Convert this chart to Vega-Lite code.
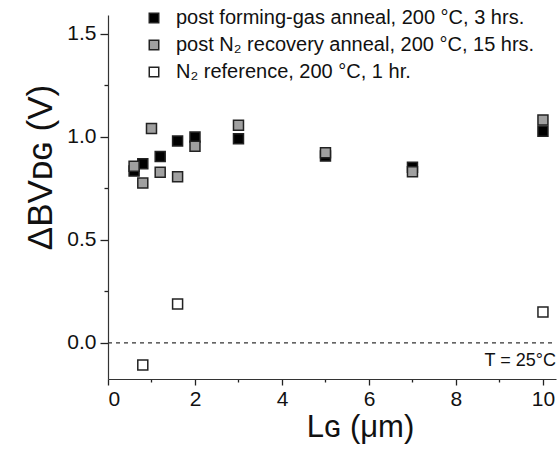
{
  "$schema": "https://vega.github.io/schema/vega-lite/v6.json",
  "autosize": {"type": "none"},
  "padding": {"left": 108, "top": 15, "right": 1, "bottom": 79},
  "width": 448,
  "height": 364,
  "background": "white",
  "config": {
    "font": "Liberation Sans",
    "view": {"stroke": null},
    "axis": {"grid": false, "domainColor": "#333", "tickColor": "#222", "labelColor": "#111", "titleColor": "#111", "domainWidth": 1.2, "tickWidth": 1.3, "labelFont": "Liberation Sans", "titleFont": "Liberation Sans", "titleFontWeight": "normal"}
  },
  "resolve": {"axis": {"x": "independent", "y": "independent"}, "scale": {"x": "shared", "y": "shared"}},
  "layer": [
    {
      "data": {"values": [{"ref": 0}]},
      "mark": {"type": "rule", "strokeDash": [4, 4], "color": "#333", "strokeWidth": 1.2},
      "encoding": {
        "y": {
          "field": "ref", "type": "quantitative",
          "scale": {"domain": [-0.175, 1.59], "nice": false, "zero": false},
          "axis": {"orient": "left", "values": [0.25, 0.75, 1.25], "labels": false, "domain": false, "title": null, "tickSize": 4}
        },
        "x": {
          "datum": 0, "type": "quantitative",
          "scale": {"domain": [0, 10.3], "nice": false, "zero": false},
          "axis": {"orient": "bottom", "values": [1, 3, 5, 7, 9], "labels": false, "domain": false, "title": null, "tickSize": 3}
        },
        "x2": {"datum": 10.3}
      }
    },
    {
      "data": {
        "values": [
          {"LG": 0.6, "dBV": 0.833, "series": "post forming-gas anneal, 200 °C, 3 hrs."},
          {"LG": 0.8, "dBV": 0.869, "series": "post forming-gas anneal, 200 °C, 3 hrs."},
          {"LG": 1.2, "dBV": 0.904, "series": "post forming-gas anneal, 200 °C, 3 hrs."},
          {"LG": 1.6, "dBV": 0.979, "series": "post forming-gas anneal, 200 °C, 3 hrs."},
          {"LG": 2.0, "dBV": 0.998, "series": "post forming-gas anneal, 200 °C, 3 hrs."},
          {"LG": 3.0, "dBV": 0.99, "series": "post forming-gas anneal, 200 °C, 3 hrs."},
          {"LG": 5.0, "dBV": 0.906, "series": "post forming-gas anneal, 200 °C, 3 hrs."},
          {"LG": 7.0, "dBV": 0.852, "series": "post forming-gas anneal, 200 °C, 3 hrs."},
          {"LG": 10.0, "dBV": 1.026, "series": "post forming-gas anneal, 200 °C, 3 hrs."},
          {"LG": 0.6, "dBV": 0.857, "series": "post N₂ recovery anneal, 200 °C, 15 hrs."},
          {"LG": 0.8, "dBV": 0.775, "series": "post N₂ recovery anneal, 200 °C, 15 hrs."},
          {"LG": 1.0, "dBV": 1.04, "series": "post N₂ recovery anneal, 200 °C, 15 hrs."},
          {"LG": 1.2, "dBV": 0.827, "series": "post N₂ recovery anneal, 200 °C, 15 hrs."},
          {"LG": 1.6, "dBV": 0.806, "series": "post N₂ recovery anneal, 200 °C, 15 hrs."},
          {"LG": 2.0, "dBV": 0.953, "series": "post N₂ recovery anneal, 200 °C, 15 hrs."},
          {"LG": 3.0, "dBV": 1.056, "series": "post N₂ recovery anneal, 200 °C, 15 hrs."},
          {"LG": 5.0, "dBV": 0.922, "series": "post N₂ recovery anneal, 200 °C, 15 hrs."},
          {"LG": 7.0, "dBV": 0.83, "series": "post N₂ recovery anneal, 200 °C, 15 hrs."},
          {"LG": 10.0, "dBV": 1.081, "series": "post N₂ recovery anneal, 200 °C, 15 hrs."},
          {"LG": 0.8, "dBV": -0.107, "series": "N₂ reference, 200 °C, 1 hr."},
          {"LG": 1.6, "dBV": 0.189, "series": "N₂ reference, 200 °C, 1 hr."},
          {"LG": 10.0, "dBV": 0.15, "series": "N₂ reference, 200 °C, 1 hr."}
        ]
      },
      "mark": {"type": "point", "shape": "square", "filled": true, "size": 100, "stroke": "#222", "strokeWidth": 1.5, "opacity": 1},
      "encoding": {
        "x": {
          "field": "LG", "type": "quantitative",
          "scale": {"domain": [0, 10.3], "nice": false, "zero": false},
          "axis": {
            "orient": "bottom",
            "title": "Lɢ (μm)", "titleFontSize": 31, "titlePadding": 3, "titleX": 252,
            "values": [0, 2, 4, 6, 8, 10],
            "labelFontSize": 21, "labelPadding": 3,
            "tickSize": 6
          }
        },
        "y": {
          "field": "dBV", "type": "quantitative",
          "scale": {"domain": [-0.175, 1.59], "nice": false, "zero": false},
          "axis": {
            "orient": "left",
            "title": "ΔBVᴅɢ  (V)", "titleFontSize": 35, "titlePadding": 8, "titleY": 152,
            "values": [0, 0.5, 1, 1.5],
            "format": ".1f",
            "labelFontSize": 21, "labelPadding": 4,
            "tickSize": 8
          }
        },
        "fill": {
          "field": "series", "type": "nominal",
          "scale": {
            "domain": ["post forming-gas anneal, 200 °C, 3 hrs.", "post N₂ recovery anneal, 200 °C, 15 hrs.", "N₂ reference, 200 °C, 1 hr."],
            "range": ["#000000", "#a0a0a0", "#ffffff"]
          },
          "legend": {
            "title": null, "orient": "none", "legendX": 36, "legendY": -7,
            "symbolType": "square", "symbolSize": 90, "symbolStrokeColor": "#222", "symbolStrokeWidth": 1.5,
            "labelFontSize": 20, "labelColor": "#111", "labelOffset": 12, "rowPadding": 7, "labelLimit": 500
          }
        }
      }
    },
    {
      "data": {"values": [{"note": "T = 25°C", "tx": 10.3, "ty": -0.088}]},
      "mark": {"type": "text", "align": "right", "baseline": "middle", "fontSize": 18, "color": "#111", "fontWeight": "normal"},
      "encoding": {
        "text": {"field": "note"},
        "x": {"field": "tx", "type": "quantitative", "axis": null},
        "y": {"field": "ty", "type": "quantitative", "axis": null}
      }
    }
  ]
}
